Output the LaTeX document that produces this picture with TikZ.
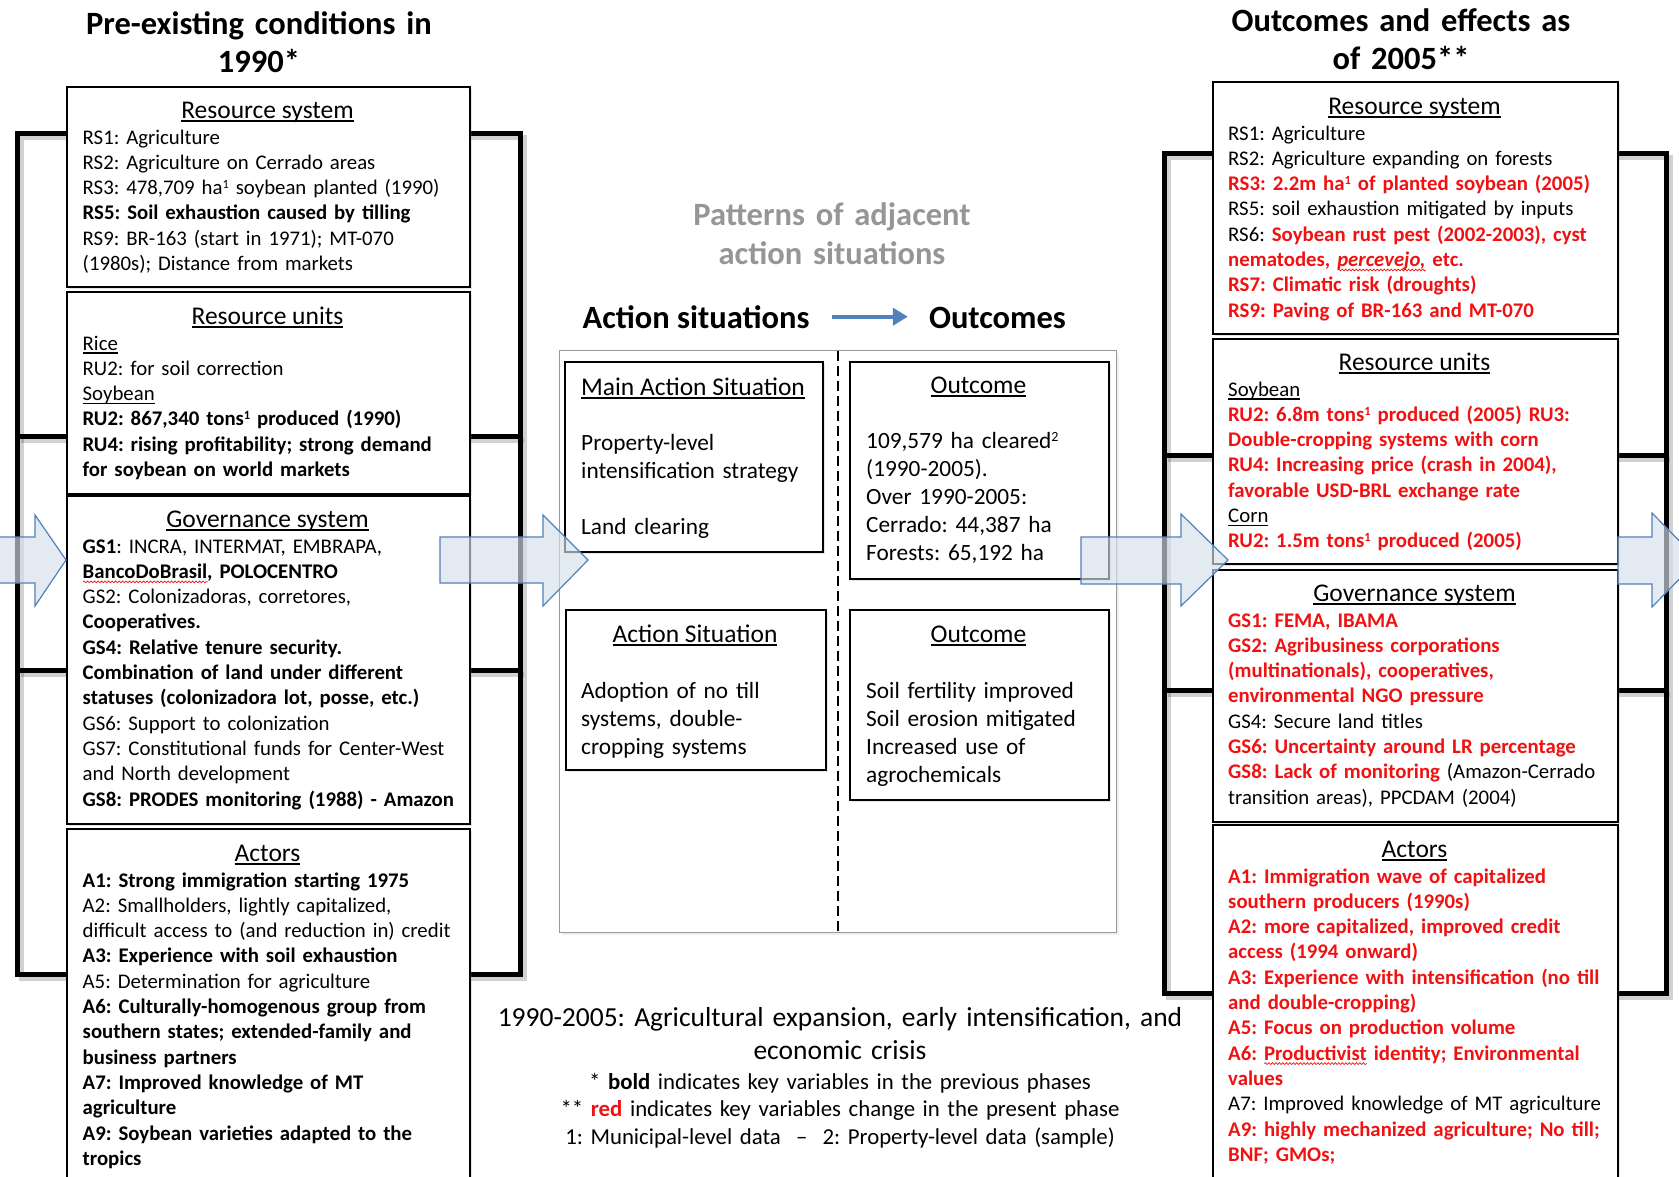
\documentclass[tikz,border=0pt]{standalone}
\usepackage{fontspec}
\setmainfont{Carlito}
\usetikzlibrary{shadows,arrows.meta,decorations.pathmorphing}
\definecolor{cred}{RGB}{240,18,18}
\definecolor{ablue}{RGB}{79,129,189}
\definecolor{afill}{RGB}{214,223,236}
\definecolor{pgray}{RGB}{150,150,150}
\frenchspacing
\newsavebox\ulbox
\newcommand\uln[1]{\leavevmode\sbox\ulbox{#1}\rlap{\rule[-3.5pt]{\wd\ulbox}{1.5pt}}\usebox\ulbox}
\newcommand\squig[1]{\leavevmode\sbox\ulbox{#1}\rlap{\tikz[baseline=0pt,x=1pt,y=1pt]\draw[cred,line width=0.7pt,decorate,decoration={snake,amplitude=0.9pt,segment length=3.5pt}] (0pt,-3.5pt) -- (\the\wd\ulbox,-3.5pt);}\usebox\ulbox}
\newcommand\kb[1]{\textbf{#1}}
\newcommand\kr[1]{\textcolor{cred}{\textbf{#1}}}
\newcommand\supr[1]{\raisebox{0.3em}{\scalebox{0.6}{#1}}}
\newcommand\fbody{\fontsize{20.8}{25.3}\selectfont}
\newcommand\fhead{\fontsize{25.5}{30}\selectfont}
\newcommand\fcen{\fontsize{23.3}{28}\selectfont}
\newcommand\ftitle{\fontsize{32.5}{38}\selectfont\bfseries}
\newcommand\fbot{\fontsize{27.5}{33}\selectfont}
\newcommand\fnote{\fontsize{22.8}{27.6}\selectfont}
\begin{document}
\begin{tikzpicture}[x=1pt,y=-1pt,
  frame/.style={line width=5pt, draw=black, line join=miter},
  fshadow/.style={line width=5pt, draw=black, opacity=0.18, line join=miter},
  sbox/.style={draw=black, line width=2.4pt, fill=white, inner sep=0pt, anchor=north west,
    drop shadow={shadow xshift=2pt, shadow yshift=-2pt, opacity=0.2}},
  cbox/.style={draw=black, line width=2.2pt, fill=white, inner sep=0pt, anchor=north west,
    drop shadow={shadow xshift=2pt, shadow yshift=-2pt, opacity=0.2}},
  head/.style={inner sep=0pt, anchor=base, font=\fhead},
  body/.style={inner sep=0pt, anchor=base west, text width=420pt, align=left, font=\fbody},
  cbody/.style={inner sep=0pt, anchor=base west, text width=240pt, align=left, font=\fcen},
  title/.style={inner sep=0pt, anchor=base, text width=560pt, align=center, font=\ftitle},
  blockarrow/.style={fill=afill, fill opacity=0.65, draw=ablue, line width=1.2pt, line join=miter},
]
\fill[white] (0,0) rectangle (1679,1176);
\useasboundingbox (0,0) rectangle (1679,1176);
\clip (0,0) rectangle (1679,1176);

% ---------- frames ----------
\draw[fshadow] (21,137) rectangle (524,978);
\draw[fshadow] (21,440) -- (524,440);
\draw[fshadow] (21,674) -- (524,674);
\draw[frame] (17,133) rectangle (520,974);
\draw[frame] (17,436) -- (520,436);
\draw[frame] (17,670) -- (520,670);

\draw[fshadow] (1168,157) rectangle (1670,997);
\draw[fshadow] (1168,459) -- (1670,459);
\draw[fshadow] (1168,694) -- (1670,694);
\draw[frame] (1164,153) rectangle (1666,993);
\draw[frame] (1164,455) -- (1666,455);
\draw[frame] (1164,690) -- (1666,690);

% ---------- titles ----------
\node[title] (ltitle) at (259,34) {Pre-existing conditions in\\1990*};
\node[title] (rtitle) at (1401,31) {Outcomes and effects as\\of 2005**};

% ---------- left column ----------
\node[sbox, minimum width=403pt, minimum height=200pt] (lrs) at (66,86) {};
\node[head] (lrsh) at (267.5,118) {\uln{Resource system}};
\node[body] (lrsb) at (82.5,144) {RS1: Agriculture\\RS2: Agriculture on Cerrado areas\\RS3: 478,709 ha\supr{1} soybean planted (1990)\\\kb{RS5: Soil exhaustion caused by tilling}\\RS9: BR-163 (start in 1971); MT-070\\(1980s); Distance from markets};

\node[sbox, minimum width=403pt, minimum height=202pt] (lru) at (66,291) {};
\node[head] (lruh) at (267.5,324) {\uln{Resource units}};
\node[body] (lrub) at (82.5,350) {\uln{Rice}\\RU2: for soil correction\\\uln{Soybean}\\\kb{RU2: 867,340 tons\supr{1} produced (1990)}\\\kb{RU4: rising profitability; strong demand}\\\kb{for soybean on world markets}};

\node[sbox, minimum width=403pt, minimum height=328pt] (lgs) at (66,495) {};
\node[head] (lgsh) at (267.5,527) {\uln{Governance system}};
\node[body] (lgsb) at (82.5,553) {\kb{GS1}: INCRA, INTERMAT, EMBRAPA,\\\kb{\squig{BancoDoBrasil}, POLOCENTRO}\\GS2: Colonizadoras, corretores,\\\kb{Cooperatives.}\\\kb{GS4: Relative tenure security.}\\\kb{Combination of land under different}\\\kb{statuses (colonizadora lot, posse, etc.)}\\GS6: Support to colonization\\GS7: Constitutional funds for Center-West\\and North development\\\kb{GS8: PRODES monitoring (1988) - Amazon}};

\node[sbox, minimum width=403pt, minimum height=400pt] (lac) at (66,828) {};
\node[head] (lach) at (267.5,861) {\uln{Actors}};
\node[body] (lacb) at (82.5,887) {\kb{A1: Strong immigration starting 1975}\\A2: Smallholders, lightly capitalized,\\difficult access to (and reduction in) credit\\\kb{A3: Experience with soil exhaustion}\\A5: Determination for agriculture\\\kb{A6: Culturally-homogenous group from}\\\kb{southern states; extended-family and}\\\kb{business partners}\\\kb{A7: Improved knowledge of MT}\\\kb{agriculture}\\\kb{A9: Soybean varieties adapted to the}\\\kb{tropics}};

% ---------- right column ----------
\node[sbox, minimum width=405pt, minimum height=252pt] (rrs) at (1212,81) {};
\node[head] (rrsh) at (1414.5,114) {\uln{Resource system}};
\node[body] (rrsb) at (1228,140) {RS1: Agriculture\\RS2: Agriculture expanding on forests\\\kr{RS3: 2.2m ha\supr{1} of planted soybean (2005)}\\RS5: soil exhaustion mitigated by inputs\\RS6: \kr{Soybean rust pest (2002-2003), cyst}\\\kr{nematodes, \squig{\textit{percevejo,}} etc.}\\\kr{RS7: Climatic risk (droughts)}\\\kr{RS9: Paving of BR-163 and MT-070}};

\node[sbox, minimum width=405pt, minimum height=225pt] (rru) at (1212,338) {};
\node[head] (rruh) at (1414.5,370) {\uln{Resource units}};
\node[body] (rrub) at (1228,396) {\uln{Soybean}\\\kr{RU2: 6.8m tons\supr{1} produced (2005) RU3:}\\\kr{Double-cropping systems with corn}\\\kr{RU4: Increasing price (crash in 2004),}\\\kr{favorable USD-BRL exchange rate}\\\uln{Corn}\\\kr{RU2: 1.5m tons\supr{1} produced (2005)}};

\node[sbox, minimum width=405pt, minimum height=252pt] (rgs) at (1212,569) {};
\node[head] (rgsh) at (1414.5,601) {\uln{Governance system}};
\node[body] (rgsb) at (1228,627) {\kr{GS1: FEMA, IBAMA}\\\kr{GS2: Agribusiness corporations}\\\kr{(multinationals), cooperatives,}\\\kr{environmental NGO pressure}\\GS4: Secure land titles\\\kr{GS6: Uncertainty around LR percentage}\\\kr{GS8: Lack of monitoring} (Amazon-Cerrado\\transition areas), PPCDAM (2004)};

\node[sbox, minimum width=405pt, minimum height=400pt] (rac) at (1212,824) {};
\node[head] (rach) at (1414.5,857) {\uln{Actors}};
\node[body] (racb) at (1228,883) {\kr{A1: Immigration wave of capitalized}\\\kr{southern producers (1990s)}\\\kr{A2: more capitalized, improved credit}\\\kr{access (1994 onward)}\\\kr{A3: Experience with intensification (no till}\\\kr{and double-cropping)}\\\kr{A5: Focus on production volume}\\\kr{A6: \squig{Productivist} identity; Environmental}\\\kr{values}\\A7: Improved knowledge of MT agriculture\\\kr{A9: highly mechanized agriculture; No till;}\\\kr{BNF; GMOs;}};

% ---------- centre ----------
\node[title, text=pgray, font=\fontsize{32.5}{39}\selectfont\bfseries] (pat) at (832,225) {Patterns of adjacent\\action situations};
\node[inner sep=0pt, anchor=base, font=\ftitle] (ash) at (696,328) {Action situations};
\node[inner sep=0pt, anchor=base, font=\ftitle] (och) at (997.5,328) {Outcomes};
\draw[ablue, line width=4pt, -{Triangle[length=15pt,width=17pt]}, shorten <=22pt, shorten >=21pt] (ash.east) -- (ash.east -| och.west);

\node[draw=black!40, line width=1.3pt, fill=white, inner sep=0pt, anchor=north west,
  minimum width=557pt, minimum height=582pt,
  drop shadow={shadow xshift=2pt, shadow yshift=-2pt, opacity=0.12}] (pan) at (559,350) {};
\coordinate (dtop) at (838,351);
\coordinate (dbot) at (838,931);
\draw[black, line width=2.5pt, dash pattern=on 10pt off 5pt] (dtop) -- (dbot);

\node[cbox, minimum width=258pt, minimum height=190pt] (mas) at (564,361) {};
\node[head] (mash) at (693,395) {\uln{Main Action Situation}};
\node[cbody] (masb) at (581,450) {Property-level\\intensification strategy\\[28pt]Land clearing};

\node[cbox, minimum width=259pt, minimum height=217pt] (oc1) at (849,361) {};
\node[head] (oc1h) at (978.5,393) {\uln{Outcome}};
\node[cbody] (oc1b) at (866,448) {109,579 ha cleared\supr{2}\\(1990-2005).\\Over 1990-2005:\\Cerrado: 44,387 ha\\Forests: 65,192 ha};

\node[cbox, minimum width=260pt, minimum height=160pt] (acs) at (565,609) {};
\node[head] (acsh) at (695,642) {\uln{Action Situation}};
\node[cbody] (acsb) at (581,698) {Adoption of no till\\systems, double-\\cropping systems};

\node[cbox, minimum width=259pt, minimum height=190pt] (oc2) at (849,609) {};
\node[head] (oc2h) at (978.5,642) {\uln{Outcome}};
\node[cbody] (oc2b) at (866,698) {Soil fertility improved\\Soil erosion mitigated\\Increased use of\\agrochemicals};

% ---------- bottom text ----------
\node[inner sep=0pt, anchor=base, text width=800pt, align=center, font=\fbot] (cap) at (840,1026) {1990-2005: Agricultural expansion, early intensification, and\\economic crisis};
\node[inner sep=0pt, anchor=base, text width=800pt, align=center, font=\fnote] (notes) at (840,1089) {* \textbf{bold} indicates key variables in the previous phases\\{}** \textcolor{cred}{\textbf{red}} indicates key variables change in the present phase\\1: Municipal-level data~~–~~2: Property-level data (sample)};

% ---------- block arrows ----------
\draw[blockarrow] (-5,537) -- (35,537) -- (35,515) -- (66,560) -- (35,606) -- (35,583) -- (-5,583) -- cycle;
\draw[blockarrow] (440,537) -- (543,537) -- (543,515) -- (588,560) -- (543,606) -- (543,583) -- (440,583) -- cycle;
\draw[blockarrow] (1081,537) -- (1181,537) -- (1181,514) -- (1228,560) -- (1181,606) -- (1181,584) -- (1081,584) -- cycle;
\draw[blockarrow] (1618,537) -- (1652,537) -- (1652,513) -- (1698,560) -- (1652,607) -- (1652,584) -- (1618,584) -- cycle;
\end{tikzpicture}
\end{document}
